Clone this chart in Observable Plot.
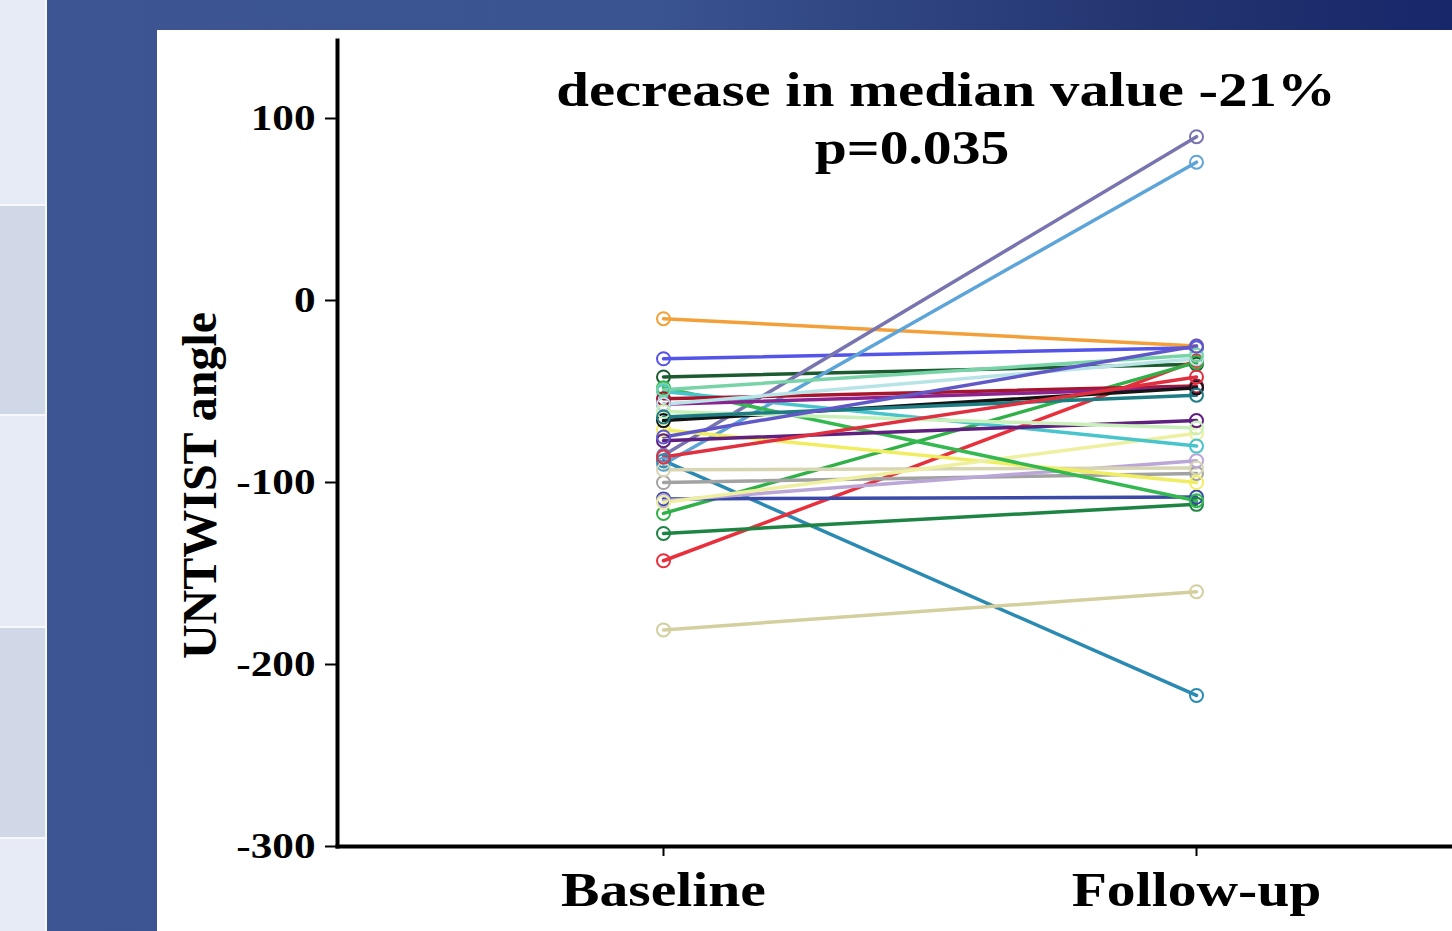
<!DOCTYPE html>
<html>
<head>
<meta charset="utf-8">
<script src="https://cdn.jsdelivr.net/npm/d3@7"></script>
<script src="https://cdn.jsdelivr.net/npm/@observablehq/plot@0.6"></script>
<style>
  html, body { margin: 0; padding: 0; width: 1452px; height: 931px; overflow: hidden; }
  body { position: relative; background: linear-gradient(to right, #3d5593 0%, #3a5391 45%, #223470 80%, #17276a 100%); font-family: 'Liberation Serif', 'Times New Roman', serif; }
  .strip { position: absolute; left: 0; width: 45px; }
  #chart { position: absolute; left: 157px; top: 30px; width: 1295px; height: 901px; background: white; }
</style>
</head>
<body>
<div style="position:absolute;left:0;top:0;width:47px;height:931px;background:#f6f8fc"></div>
<div class="strip" style="top:0;height:204px;background:#e7ebf5"></div>
<div class="strip" style="top:206px;height:208px;background:#d0d8e8"></div>
<div class="strip" style="top:416px;height:210px;background:#e7ebf5"></div>
<div class="strip" style="top:628px;height:209px;background:#d0d8e8"></div>
<div class="strip" style="top:839px;height:92px;background:#e7ebf5"></div>
<div id="chart"></div>
<script>
const categories = ["Baseline", "Follow-up"];
const baseline = [-10, -32, -42, -85, -90, -88, -181, -143, -117, -128, -109, -100, -110, -93, -71, -111, -48, -50, -54, -57, -66, -77, -57, -61, -64, -86, -49, -75];
const followUp = [-25, -26, -35, 90, 76, -217, -160, -33, -34, -112, -108, -95, -88, -92, -100, -73, -110, -80, -47, -48, -48, -66, -32, -70, -52, -42, -30, -25];
const colors = ["#f4a03a", "#5454e8", "#1c5a30", "#7874b0", "#5da4d8", "#2a8ab2", "#d3cf9e", "#e8303c", "#30b048", "#1e8444", "#3a4aa6", "#a2a2a2", "#bba6d8", "#d8d6b2", "#f0ee60", "#eef0a0", "#34b850", "#48c4cc", "#a8162e", "#8c2490", "#141414", "#602080", "#b8e4e8", "#c8f0b8", "#1e7c84", "#e03040", "#78d4a8", "#6058c8"];
const yTicks = [-300, -200, -100, 0, 100];
const titleLine1 = "decrease in median value -21%";
const titleLine2 = "p=0.035";
const yLabel = "UNTWIST angle";

const rows = baseline.flatMap((b, i) => [
  {id: i, time: categories[0], value: b, color: colors[i]},
  {id: i, time: categories[1], value: followUp[i], color: colors[i]}
]);

const plot = Plot.plot({
  width: 1295,
  height: 901,
  marginLeft: 180,
  marginRight: 0,
  marginTop: 10,
  marginBottom: 85,
  style: {background: "white", fontFamily: "'Liberation Serif', 'Times New Roman', serif", color: "black", overflow: "visible"},
  x: {type: "point", domain: categories, range: [506, 1039], padding: 0, label: null},
  y: {domain: [-300, 100], range: [816, 88], label: null},
  color: {type: "identity"},
  marks: [
    Plot.axisY(yTicks, {tickSize: 12, tickPadding: 10, fontSize: 36, fontWeight: "bold", strokeWidth: 2, tickFormat: d => String(d), label: null}),
    Plot.axisX({tickSize: 10, tickPadding: 15, fontSize: 48, fontWeight: "bold", strokeWidth: 2, label: null}),
    Plot.frame({anchor: "left", strokeWidth: 4, stroke: "black"}),
    Plot.frame({anchor: "bottom", strokeWidth: 4, stroke: "black"}),
    Plot.line(rows, {x: "time", y: "value", z: "id", stroke: "color", strokeWidth: 3.5}),
    Plot.dot(rows, {x: "time", y: "value", stroke: "color", r: 6.5, strokeWidth: 2, fill: "none"}),
    Plot.text([titleLine1], {text: d => d, frameAnchor: "top", dx: 51, dy: 50, lineAnchor: "middle", fontSize: 49, fontWeight: "bold", fill: "black"}),
    Plot.text([titleLine2], {text: d => d, frameAnchor: "top", dx: 17, dy: 108, lineAnchor: "middle", fontSize: 48, fontWeight: "bold", fill: "black"}),
    Plot.text([yLabel], {text: d => d, frameAnchor: "left", textAnchor: "middle", dx: -137, dy: 42, rotate: -90, fontSize: 48, fontWeight: "bold", fill: "black"})
  ]
});
document.getElementById("chart").appendChild(plot);

// horizontal stretch of the (non-rotated) text, as in the reference
d3.select(plot).selectAll("text").each(function() {
  const tr = this.getAttribute("transform") || "";
  if (tr.includes("rotate")) return;
  const len = this.getComputedTextLength();
  if (len > 0) {
    this.setAttribute("textLength", len * 1.2);
    this.setAttribute("lengthAdjust", "spacingAndGlyphs");
  }
});
</script>
</body>
</html>
